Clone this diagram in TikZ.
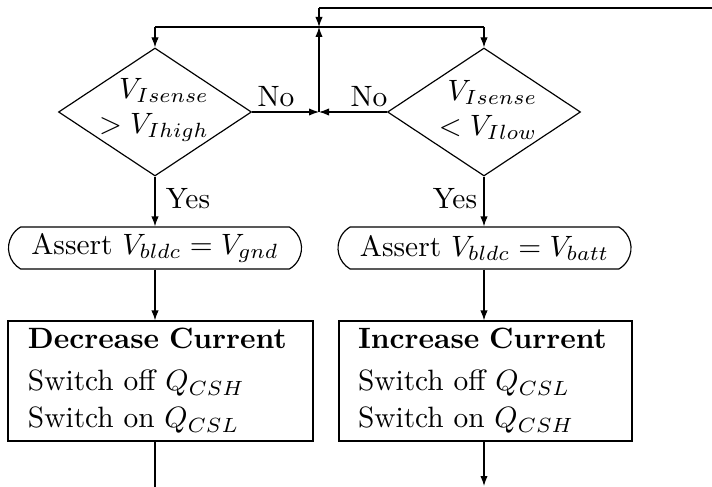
\documentclass[tikz,border=0pt]{standalone}
\usetikzlibrary{shapes.geometric,shapes.misc,arrows.meta}
\newcommand\upx{0.34}
\begin{document}
\begin{tikzpicture}[x=\upx pt,y=-\upx pt,
  line width=0.4pt,
  arr/.style={-{Latex[length=3.4pt,width=2.5pt]}},
  decision/.style={diamond,draw,inner sep=0pt,minimum width={193*\upx pt},minimum height={128*\upx pt}},
  dtext/.style={inner sep=0pt,align=right},
  term/.style={rounded rectangle,rounded rectangle arc length=120,draw,minimum width={293*\upx pt},minimum height={42*\upx pt},inner sep=0pt},
  proc/.style={rectangle,draw,minimum height={120*\upx pt},inner ysep=0pt,align=left},
  lbl/.style={inner sep=0pt,anchor=base}
]
\useasboundingbox (0,0) rectangle (712,486);

% coordinates
\coordinate (TE) at (716,8);
\coordinate (TJ) at (319,8);
\coordinate (T) at (319,27);
\coordinate (TL) at (155,27);
\coordinate (TR) at (484,27);
\coordinate (J) at (319,112);
\coordinate (BL) at (155,492);
\coordinate (BR) at (484,486);

% decisions
\node[decision] (d1) at (155,112) {};
\node[decision] (d2) at (484,112) {};
\node[dtext] (d1t) at (154,110) {$V_{Isense}$\\ $>V_{Ihigh}$};
\node[dtext] (d2t) at (488,110) {$V_{Isense}$\\ $<V_{Ilow}$};

% terminals
\node[term] (t1) at (155,248) {Assert $V_{bldc}=V_{gnd}$};
\node[term] (t2) at (484.5,248) {Assert $V_{bldc}=V_{batt}$};

% process boxes
\node[proc,text width={265*\upx pt},inner xsep={20*\upx pt}] (b1) at (160.5,381)
  {\textbf{Decrease Current}\\[2.3pt] Switch off $Q_{CSH}$\\[0.6pt] Switch on $Q_{CSL}$};
\node[proc,text width={255*\upx pt},inner xsep={19*\upx pt}] (b2) at (485.5,381)
  {\textbf{Increase Current}\\[2.3pt] Switch off $Q_{CSL}$\\[0.6pt] Switch on $Q_{CSH}$};

% labels
\node[lbl] (no1) at (276,107) {No};
\node[lbl] (no2) at (369,107) {No};
\node[lbl] (yes1) at (188,208) {Yes};
\node[lbl] (yes2) at (455,208) {Yes};

% connectors
\draw (TE) -- (TJ);
\draw[arr] (TJ) -- (T);
\draw (TL) -- (TR);
\draw[arr] (TL) -- (d1.north);
\draw[arr] (TR) -- (d2.north);
\draw[arr] (d1.east) -- (J);
\draw[arr] (d2.west) -- (J);
\draw[arr] (J) -- (T);
\draw[arr] (d1.south) -- (t1.north);
\draw[arr] (d2.south) -- (d2.south |- t2.north);
\draw[arr] (t1.south) -- (t1.south |- b1.north);
\draw[arr] (t2.south -| d2.south) -- (d2.south |- b2.north);
\draw (b1.south -| t1.south) -- (BL);
\draw[arr] (b2.south -| d2.south) -- (BR);
\end{tikzpicture}
\end{document}
